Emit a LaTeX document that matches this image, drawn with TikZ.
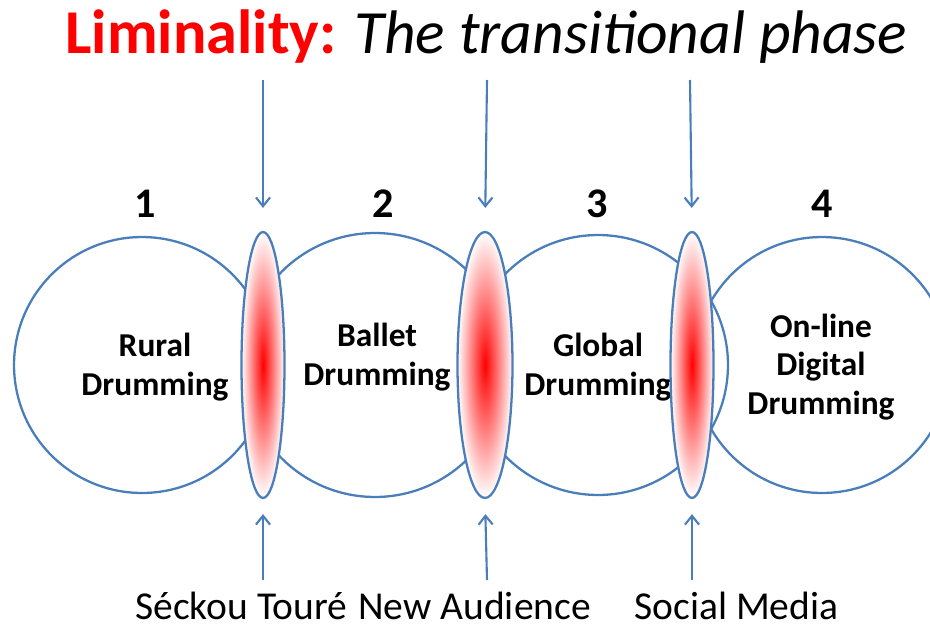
\documentclass[tikz,border=0pt]{standalone}
\usepackage{fontspec}
\setmainfont{Carlito}
\usetikzlibrary{arrows.meta}
\usetikzlibrary{shapes.geometric}
\usetikzlibrary{positioning}

\definecolor{azul}{RGB}{74,126,187}

\tikzset{
  fase/.style={circle,draw=azul,line width=1.3pt,inner sep=0pt},
  lente/.style={ellipse,draw=azul,line width=1.3pt,inner color=red,outer color=white,inner sep=0pt},
  seta/.style={azul,line width=1.2pt,-{Straight Barb[length=5pt,width=8pt,line width=1.2pt]}},
  rotulo/.style={font=\fontsize{19}{22}\selectfont\bfseries,align=center,text=black},
  numero/.style={font=\fontsize{24}{28}\selectfont\bfseries},
  fonte/.style={font=\fontsize{22.5}{26}\selectfont,anchor=base west,inner sep=0pt}
}

\begin{document}
\begin{tikzpicture}[x=0.02cm,y=-0.02cm]

\useasboundingbox (0,0) rectangle (930,629);
\begin{scope}
\clip (0,0) rectangle (930,629);

% circulos
\node[fase,minimum size=5.12cm] (c1) at (142,365) {};
\node[fase,minimum size=5.28cm] (c2) at (375,365) {};
\node[fase,minimum size=5.20cm] (c3) at (598,365) {};
\node[fase,minimum size=5.12cm] (c4) at (822,365) {};
\end{scope}

% textos dos circulos
\node[rotulo] (r1) at (155,367) {Rural\\Drumming};
\node[rotulo] (r2) at (377,357) {Ballet\\Drumming};
\node[rotulo] (r3) at (598,367) {Global\\Drumming};
\node[rotulo] (r4) at (821,367) {On-line\\Digital\\Drumming};

% lentes
\node[lente,minimum width=0.86cm,minimum height=5.32cm] (l1) at (263,365) {};
\node[lente,minimum width=1.10cm,minimum height=5.32cm] (l2) at (485,365) {};
\node[lente,minimum width=0.86cm,minimum height=5.32cm] (l3) at (692,365) {};

% numeros
\node[numero] (n1) at (145,204) {1};
\node[numero] (n2) at (383,204) {2};
\node[numero] (n3) at (597,204) {3};
\node[numero] (n4) at (822,204) {4};

% titulo
\node[anchor=base west,inner sep=0pt,text=red,font=\fontsize{35.5}{40}\selectfont\bfseries] (tit) at (65,53) {Liminality:};
\node[anchor=base west,inner sep=0pt,font=\fontsize{35}{40}\selectfont\itshape] (sub) at (354,53) {The transitional phase};

% setas de cima
\coordinate (t1) at (263,80);
\coordinate (t2) at (487,80);
\coordinate (t3) at (690,80);
\draw[seta,shorten >=0.46cm] (t1) -- (l1.north);
\draw[seta,shorten >=0.46cm] (t2) -- (l2.north);
\draw[seta,shorten >=0.46cm] (t3) -- (l3.north);

% setas de baixo
\coordinate (b1) at (263,580);
\coordinate (b2) at (487,580);
\coordinate (b3) at (692,580);
\draw[seta,shorten >=0.30cm] (b1) -- (l1.south);
\draw[seta,shorten >=0.30cm] (b2) -- (l2.south);
\draw[seta,shorten >=0.30cm] (b3) -- (l3.south);

% agentes
\node[fonte] (a1) at (135,619) {Séckou Touré};
\node[fonte] (a2) at (358,619) {New Audience};
\node[fonte] (a3) at (634,619) {Social Media};

\end{tikzpicture}
\end{document}
